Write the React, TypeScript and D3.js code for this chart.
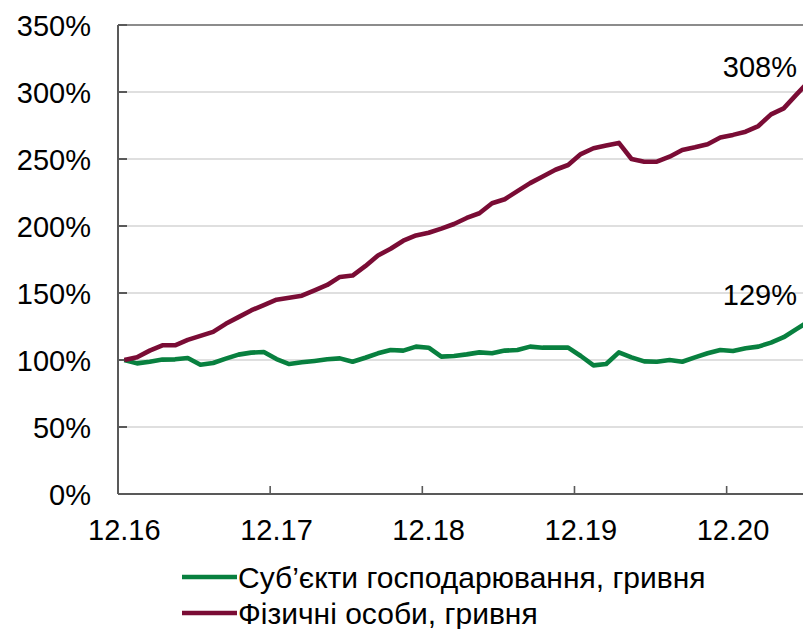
import React, { useRef, useEffect } from 'react';
import * as d3 from 'd3';

// monthly categories 12.16 .. 06.21
const months: string[] = d3
  .timeMonth.range(new Date(2016, 11, 1), new Date(2021, 6, 1))
  .map(d => d3.timeFormat('%m.%y')(d));

const tickLabels = ['12.16', '12.17', '12.18', '12.19', '12.20'];
const yTicks = [0, 50, 100, 150, 200, 250, 300, 350];

// Суб'єкти господарювання, гривня (12.16 = 100%)
const businessValues = [
  100, 97.5, 98.7, 100.3, 100.5, 101.5, 96.5, 97.8, 101, 104, 105.5, 106,
  100.7, 97, 98.3, 99.3, 100.5, 101.2, 98.7, 101.7, 105, 107.5, 107, 110,
  109.2, 102.5, 103, 104.2, 105.7, 105, 107, 107.5, 110, 109.2, 109.2, 109.2,
  103, 96, 97, 105.7, 102, 99, 98.7, 100, 98.7, 102, 105, 107.5,
  106.7, 108.7, 110, 113, 117, 123, 129,
];

// Фізичні особи, гривня (12.16 = 100%)
const householdValues = [
  100, 102, 107, 111, 111, 115, 118, 121, 127, 132, 137, 141,
  145, 146.5, 148, 152, 156, 162, 163, 170, 178, 183, 189, 193,
  195, 198, 201.5, 206, 209.5, 217, 220, 226, 232, 237, 242, 245.5,
  253.7, 258, 260, 262, 250, 248, 248, 251.7, 256.7, 258.7, 261, 266,
  268, 270.4, 274.6, 283.3, 287.8, 298, 308,
];

const series = [
  { name: 'Суб’єкти господарювання, гривня', values: businessValues, color: '#08803f', endLabel: '129%', labelY: 305 },
  { name: 'Фізичні особи, гривня', values: householdValues, color: '#7a0c35', endLabel: '308%', labelY: 77 },
];

function LineChart() {
  const svgRef = useRef<SVGSVGElement>(null);

  useEffect(() => {
    const width = 803;
    const height = 629;
    const svg = d3.select(svgRef.current);
    svg.selectAll('*').remove();
    svg.attr('width', width).attr('height', height);

    const font = '"Liberation Sans", Arial, sans-serif';
    const left = 118;
    const step = 12.68;

    const x = d3.scaleBand<string>()
      .domain(months)
      .range([left, left + months.length * step])
      .padding(0);

    const y = d3.scaleLinear().domain([0, 350]).range([494, 25]);
    const right = left + months.length * step;

    // Grid lines
    svg.append('g')
      .selectAll('line')
      .data(yTicks.filter(t => t > 0 && t < 350))
      .enter()
      .append('line')
      .attr('x1', left)
      .attr('x2', right)
      .attr('y1', d => y(d))
      .attr('y2', d => y(d))
      .attr('stroke', '#d4d4d4')
      .attr('stroke-width', 1.5);

    // top border
    svg.append('line')
      .attr('x1', left).attr('x2', right)
      .attr('y1', y(350)).attr('y2', y(350))
      .attr('stroke', '#666').attr('stroke-width', 1.6);

    // Y axis
    svg.append('line')
      .attr('x1', left).attr('x2', left)
      .attr('y1', y(350)).attr('y2', y(0))
      .attr('stroke', '#595959').attr('stroke-width', 2);

    svg.append('g')
      .selectAll('line')
      .data(yTicks)
      .enter()
      .append('line')
      .attr('x1', left).attr('x2', left + 9)
      .attr('y1', d => y(d)).attr('y2', d => y(d))
      .attr('stroke', '#595959').attr('stroke-width', 2);

    svg.append('g')
      .selectAll('text')
      .data(yTicks)
      .enter()
      .append('text')
      .attr('x', 91)
      .attr('y', d => y(d) + 10.5)
      .attr('text-anchor', 'end')
      .attr('font-family', font)
      .attr('font-size', '29px')
      .attr('fill', '#000')
      .text(d => `${d}%`);

    // X axis
    svg.append('line')
      .attr('x1', left).attr('x2', right)
      .attr('y1', y(0)).attr('y2', y(0))
      .attr('stroke', '#595959').attr('stroke-width', 2);

    svg.append('g')
      .selectAll('line')
      .data(tickLabels.slice(1))
      .enter()
      .append('line')
      .attr('x1', d => x(d)!).attr('x2', d => x(d)!)
      .attr('y1', y(0) - 8).attr('y2', y(0))
      .attr('stroke', '#595959').attr('stroke-width', 1.6);

    svg.append('g')
      .selectAll('text')
      .data(tickLabels)
      .enter()
      .append('text')
      .attr('x', d => x(d)! + x.bandwidth() / 2)
      .attr('y', 540)
      .attr('text-anchor', 'middle')
      .attr('font-family', font)
      .attr('font-size', '29px')
      .attr('fill', '#000')
      .text(d => d);

    // Lines
    const line = d3.line<number>()
      .x((_, i) => x(months[i])! + x.bandwidth() / 2)
      .y(d => y(d));

    series.forEach(s => {
      svg.append('path')
        .datum(s.values)
        .attr('fill', 'none')
        .attr('stroke', s.color)
        .attr('stroke-width', 4.6)
        .attr('stroke-linejoin', 'round')
        .attr('d', line);

      svg.append('text')
        .attr('x', 797)
        .attr('y', s.labelY)
        .attr('text-anchor', 'end')
        .attr('font-family', font)
        .attr('font-size', '29px')
        .attr('fill', '#000')
        .text(s.endLabel);
    });

    // Legend
    const legend = svg.append('g').attr('transform', 'translate(182, 577)');
    series.forEach((s, i) => {
      const item = legend.append('g').attr('transform', `translate(0, ${i * 36})`);
      item.append('line')
        .attr('x1', 0).attr('x2', 55)
        .attr('y1', 0).attr('y2', 0)
        .attr('stroke', s.color)
        .attr('stroke-width', 4.6);
      item.append('text')
        .attr('x', 56)
        .attr('y', 10.5)
        .attr('font-family', font)
        .attr('font-size', '30px')
        .attr('fill', '#000')
        .text(s.name);
    });
  }, []);

  return <svg ref={svgRef}></svg>;
}

export default function App() {
  return (
    <div style={{ position: 'absolute', left: 0, top: 0, width: 803, height: 629, overflow: 'hidden', background: '#fff' }}>
      <LineChart />
    </div>
  );
}
